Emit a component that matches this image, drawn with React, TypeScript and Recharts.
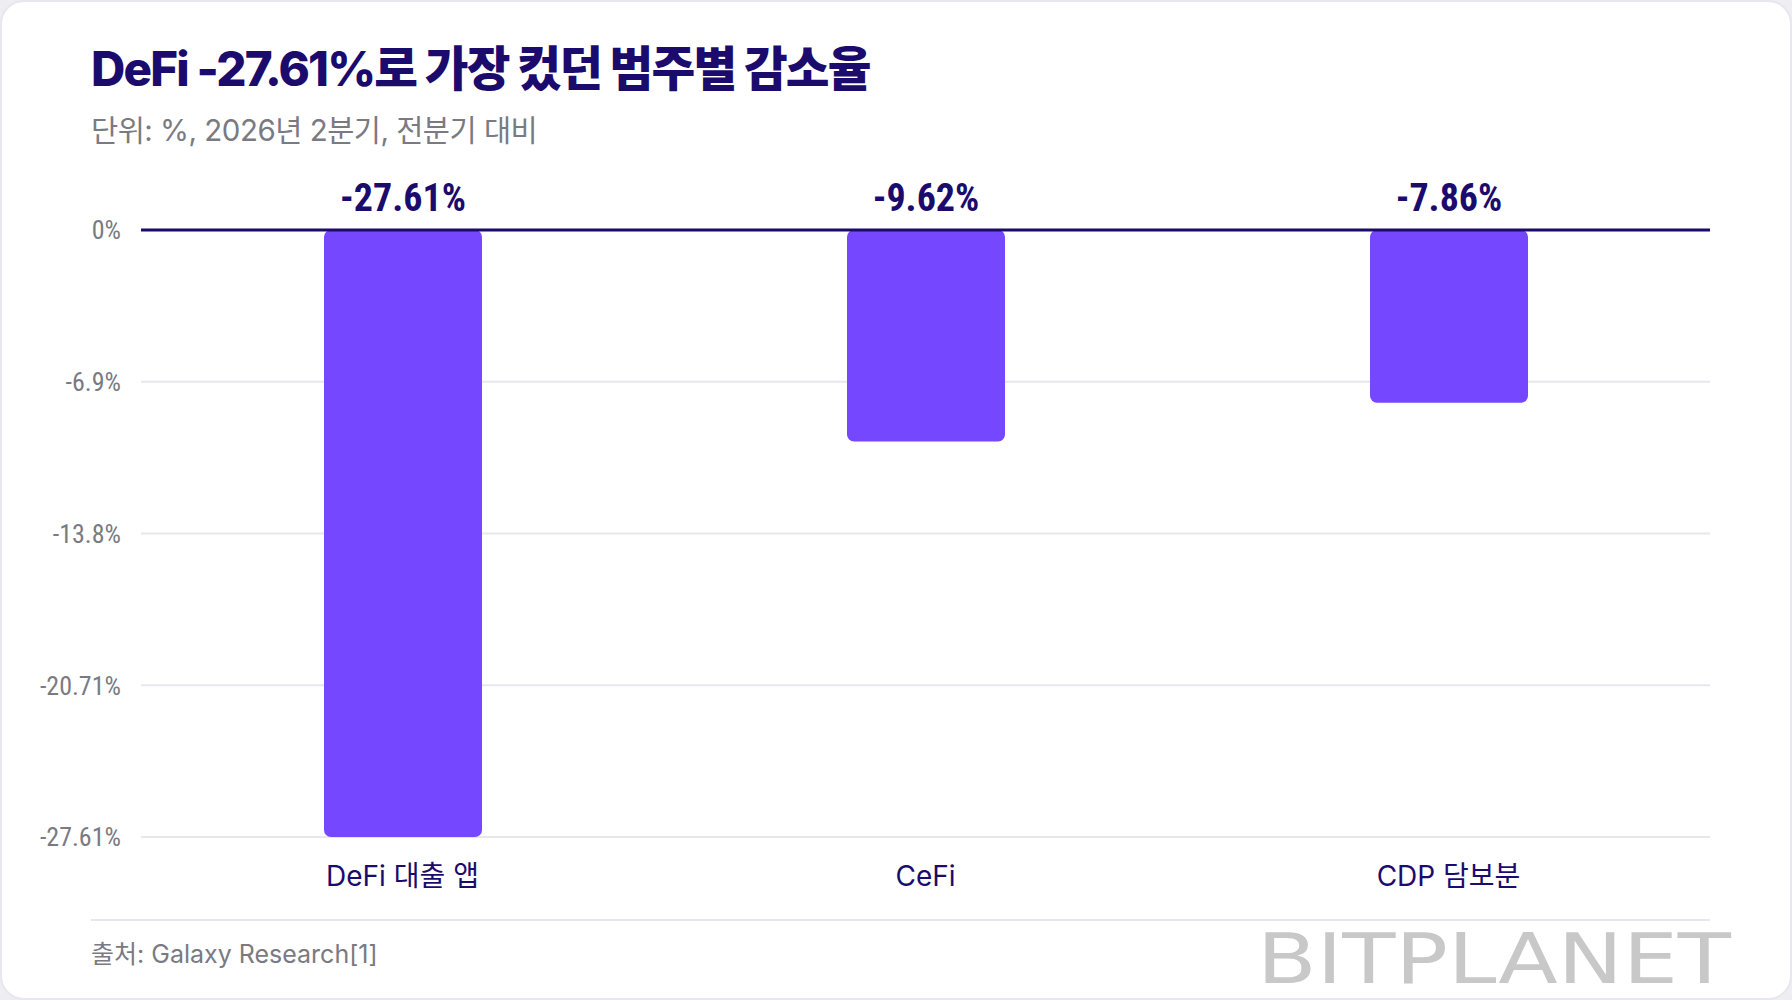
import { Bar, BarChart, CartesianGrid, LabelList, ReferenceLine, XAxis, YAxis } from 'recharts'

const CATEGORIES = ['DeFi 대출 앱', 'CeFi', 'CDP 담보분']
const CHANGES = [-27.61, -9.62, -7.86]
const Y_TICKS = [0, -6.9, -13.8, -20.71, -27.61]

const NAVY = '#1b0b6c'
const VIOLET = '#7548ff'
const GRAY = '#7a7a82'
const LINE = '#e7e7ee'

const SANS = "Inter, 'Noto Sans CJK KR', sans-serif"
const NARROW = "'Liberation Sans Narrow', 'Roboto Condensed', Roboto, sans-serif"

const data = CATEGORIES.map((name, i) => ({ name, value: CHANGES[i] }))

function ValueLabel(props: any) {
  const { x, y, width, height, value } = props
  const top = Math.min(Number(y), Number(y) + Number(height))
  return (
    <text
      x={Number(x) + Number(width) / 2}
      y={top - 19}
      textAnchor="middle"
      fill={NAVY}
      fontFamily={NARROW}
      fontWeight={700}
      fontSize={38}
    >
      {`${value}%`}
    </text>
  )
}

export default function App() {
  return (
    <div
      style={{
        position: 'absolute',
        left: 0,
        top: 0,
        width: 1792,
        height: 1000,
        background: '#ededf2',
        fontFamily: SANS,
      }}
    >
      <div
        style={{
          position: 'absolute',
          inset: 0,
          boxSizing: 'border-box',
          border: `2px solid ${LINE}`,
          borderRadius: 24,
          background: '#fff',
        }}
      />
      <div
        style={{
          position: 'absolute',
          left: 91,
          top: 45,
          fontSize: 47.5,
          lineHeight: 1,
          fontWeight: 800,
          letterSpacing: -1.8,
          color: NAVY,
          whiteSpace: 'nowrap',
        }}
      >
        DeFi -27.61%로 가장 컸던 범주별 감소율
      </div>
      <div
        style={{
          position: 'absolute',
          left: 91,
          top: 116,
          fontSize: 29.5,
          lineHeight: 1,
          color: GRAY,
          letterSpacing: -0.5,
          whiteSpace: 'nowrap',
        }}
      >
        단위: %, 2026년 2분기, 전분기 대비
      </div>

      <div style={{ position: 'absolute', left: 0, top: 0 }}>
        <BarChart
          width={1792}
          height={1000}
          data={data}
          margin={{ top: 230, right: 82, bottom: 103, left: 0 }}
        >
          <CartesianGrid vertical={false} stroke={LINE} strokeWidth={2} />
          <YAxis
            width={141}
            domain={[-27.61, 0]}
            ticks={Y_TICKS}
            tickFormatter={(v) => `${v}%`}
            axisLine={false}
            tickLine={false}
            tickSize={0}
            tickMargin={20}
            tick={{ fill: GRAY, fontSize: 26, fontFamily: NARROW }}
          />
          <XAxis
            dataKey="name"
            height={60}
            axisLine={false}
            tickLine={false}
            tickSize={0}
            tickMargin={29}
            tick={{ fill: NAVY, fontSize: 28, fontFamily: SANS }}
          />
          <Bar dataKey="value" fill={VIOLET} barSize={158} radius={7} isAnimationActive={false}>
            <LabelList dataKey="value" content={ValueLabel} />
          </Bar>
          <ReferenceLine y={0} stroke={NAVY} strokeWidth={3} />
        </BarChart>
      </div>

      <div
        style={{
          position: 'absolute',
          left: 91,
          top: 919,
          width: 1619,
          height: 2,
          background: LINE,
        }}
      />
      <div
        style={{
          position: 'absolute',
          left: 91,
          top: 942,
          fontSize: 25,
          lineHeight: 1,
          color: GRAY,
          whiteSpace: 'nowrap',
        }}
      >
        출처: Galaxy Research[1]
      </div>
      <svg
        width={500}
        height={74}
        style={{ position: 'absolute', left: 1250, top: 922 }}
      >
        <text
          x={7}
          y={61}
          fill="#c8c8c8"
          fontFamily="'DejaVu Sans', sans-serif"
          fontSize={70}
          textLength={474}
          lengthAdjust="spacingAndGlyphs"
        >
          BITPLANET
        </text>
      </svg>
    </div>
  )
}
